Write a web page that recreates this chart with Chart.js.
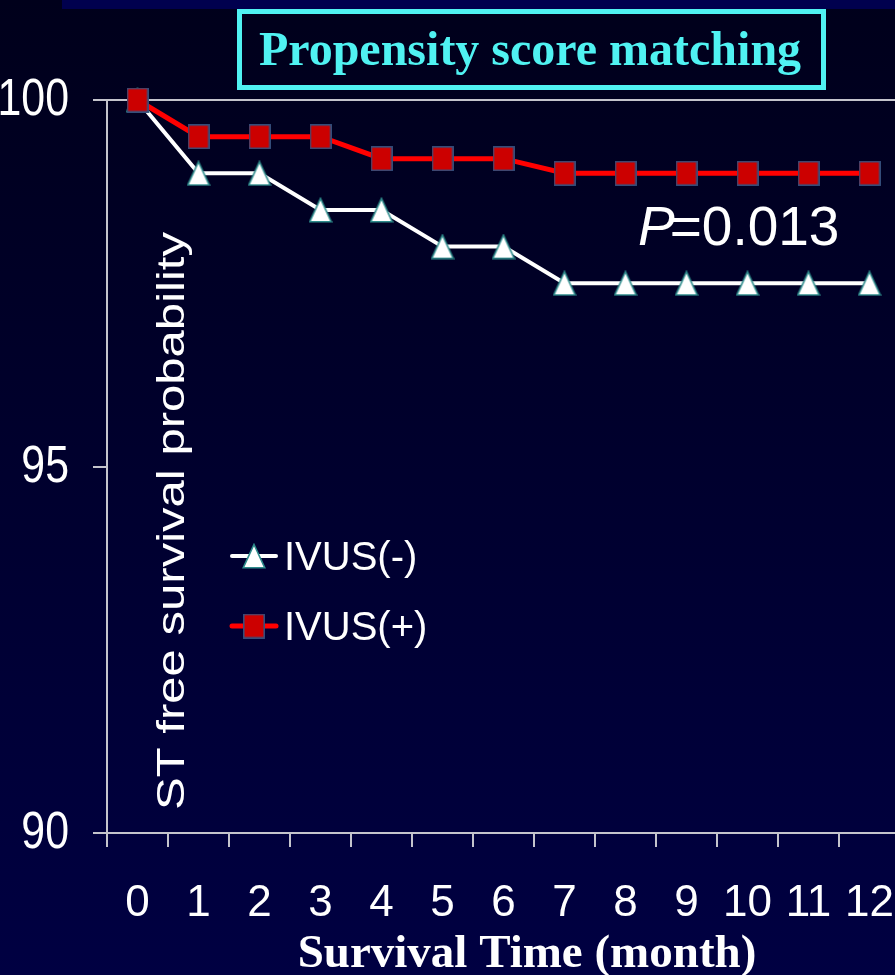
<!DOCTYPE html>
<html>
<head>
<meta charset="utf-8">
<script src="https://cdn.jsdelivr.net/npm/chart.js@4.4.1/dist/chart.umd.min.js"></script>
<style>
  html, body { margin: 0; padding: 0; overflow: hidden; width: 895px; height: 975px; background: #00001e; }
  #wrap { position: relative; width: 900px; height: 975px; background: linear-gradient(#00001b, #000042); }
  canvas { display: block; }
</style>
</head>
<body>
<div id="wrap"><canvas id="chart" width="900" height="975"></canvas></div>
<script>
// Months after the procedure
const months = ['0', '1', '2', '3', '4', '5', '6', '7', '8', '9', '10', '11', '12'];
// Stent-thrombosis-free survival (%)
const ivusNeg = [100, 99.0, 99.0, 98.5, 98.5, 98.0, 98.0, 97.5, 97.5, 97.5, 97.5, 97.5, 97.5];
const ivusPos = [100, 99.5, 99.5, 99.5, 99.2, 99.2, 99.2, 99.0, 99.0, 99.0, 99.0, 99.0, 99.0];
const seriesNames = ['IVUS(-)', 'IVUS(+)'];
const yMin = 90, yMax = 100, yStep = 5;

const chartTitle = 'Propensity score matching';
const xTitle = 'Survival Time (month)';
const yTitle = 'ST free survival probability';
const pValue = '0.013';

const AXIS = '#c4c4cc';
const SANS = '"Liberation Sans", Arial, sans-serif';
const SERIF = '"Liberation Serif", "Times New Roman", serif';

// Marker images: white triangle with teal edge, red block with dark edge
function makeTriangle() {
  const c = document.createElement('canvas');
  c.width = 24; c.height = 26;
  const g = c.getContext('2d');
  g.beginPath();
  g.moveTo(12, 1.5); g.lineTo(22.8, 24.8); g.lineTo(1.2, 24.8); g.closePath();
  g.fillStyle = '#ffffff'; g.fill();
  g.lineWidth = 1.6; g.strokeStyle = '#2e8c8c'; g.stroke();
  return c;
}
function makeSquare() {
  const c = document.createElement('canvas');
  c.width = 22; c.height = 25;
  const g = c.getContext('2d');
  g.fillStyle = '#cc0000';
  g.fillRect(0.8, 0.8, 20.4, 23.4);
  g.lineWidth = 1.5; g.strokeStyle = '#34507e';
  g.strokeRect(0.8, 0.8, 20.4, 23.4);
  return c;
}
const triImg = makeTriangle();
const sqImg = makeSquare();

// Background strip, title box, condensed y tick labels and free text
const decor = {
  id: 'decor',
  beforeDraw(chart) {
    const ctx = chart.ctx;
    ctx.save();
    ctx.fillStyle = '#00004e';
    ctx.fillRect(62, 0, chart.width - 62, 9);
    // title box
    ctx.strokeStyle = '#50f2f2';
    ctx.lineWidth = 5;
    ctx.strokeRect(239.5, 11.5, 584, 76);
    ctx.fillStyle = '#50f2f2';
    ctx.font = 'bold 48px ' + SERIF;
    ctx.textAlign = 'center';
    ctx.textBaseline = 'alphabetic';
    ctx.fillText(chartTitle, 530, 65);
    ctx.restore();
  },
  afterDraw(chart) {
    const ctx = chart.ctx;
    const yScale = chart.scales.y;
    ctx.save();
    ctx.fillStyle = '#ffffff';

    // y tick labels, slightly condensed
    ctx.font = '51px ' + SANS;
    ctx.textAlign = 'right';
    ctx.textBaseline = 'middle';
    yScale.ticks.forEach(t => {
      const py = yScale.getPixelForValue(t.value);
      ctx.save();
      ctx.translate(69, py);
      ctx.scale(0.84, 1);
      ctx.fillText(String(t.value), 0, 1);
      ctx.restore();
    });

    // y-axis title, written upward inside the plot
    ctx.save();
    ctx.font = '39px ' + SANS;
    const w = ctx.measureText(yTitle).width;
    ctx.translate(184, 810);
    ctx.rotate(-Math.PI / 2);
    ctx.scale(578 / w, 1);
    ctx.textAlign = 'left';
    ctx.textBaseline = 'alphabetic';
    ctx.fillText(yTitle, 0, 0);
    ctx.restore();

    // x-axis title
    ctx.font = 'bold 47px ' + SERIF;
    ctx.textAlign = 'center';
    ctx.textBaseline = 'alphabetic';
    ctx.fillText(xTitle, 527, 967);

    // P value
    ctx.textAlign = 'left';
    ctx.font = 'italic 55px ' + SANS;
    ctx.fillText('P', 638, 245);
    const pw = ctx.measureText('P').width;
    ctx.font = '55px ' + SANS;
    ctx.fillText('=' + pValue, 638 + pw - 5, 245);

    // legend
    const rows = [
      { ds: chart.data.datasets[1], y: 556 },
      { ds: chart.data.datasets[0], y: 626 }
    ];
    ctx.font = '40px ' + SANS;
    ctx.textBaseline = 'middle';
    rows.forEach(r => {
      ctx.strokeStyle = r.ds.borderColor;
      ctx.lineWidth = r.ds.borderWidth;
      ctx.lineCap = 'round';
      ctx.beginPath();
      ctx.moveTo(232, r.y); ctx.lineTo(276, r.y);
      ctx.stroke();
      const img = r.ds.pointStyle;
      ctx.drawImage(img, 254 - img.width / 2, r.y - img.height / 2);
      ctx.fillStyle = '#ffffff';
      ctx.fillText(r.ds.label, 284, r.y + 3);
    });
    ctx.restore();
  }
};

new Chart(document.getElementById('chart'), {
  type: 'line',
  data: {
    labels: months,
    datasets: [
      {
        label: seriesNames[1],
        data: ivusPos,
        borderColor: '#ff0000',
        borderWidth: 5,
        pointStyle: sqImg,
        pointRadius: 12,
        tension: 0,
        clip: false,
        order: 0
      },
      {
        label: seriesNames[0],
        data: ivusNeg,
        borderColor: '#ffffff',
        borderWidth: 4,
        pointStyle: triImg,
        pointRadius: 12,
        tension: 0,
        clip: false,
        order: 1
      }
    ]
  },
  options: {
    responsive: false,
    animation: false,
    events: [],
    layout: { autoPadding: false, padding: { top: 100, left: 0, right: 0, bottom: 0 } },
    plugins: { legend: { display: false }, tooltip: { enabled: false }, title: { display: false } },
    scales: {
      x: {
        offset: true,
        grid: { offset: true, drawOnChartArea: false, color: AXIS, tickColor: AXIS, lineWidth: 2, tickLength: 14 },
        border: { color: AXIS, width: 2 },
        ticks: { color: '#ffffff', font: { family: SANS, size: 44 }, padding: 30, maxRotation: 0, autoSkip: false },
        afterFit(s) { s.height = 142; s.paddingLeft = 0; s.paddingRight = 0; }
      },
      y: {
        min: yMin,
        max: yMax,
        ticks: { stepSize: yStep, display: false },
        grid: {
          color: c => (c.tick && c.tick.value === yMax) ? AXIS : 'rgba(0,0,0,0)',
          tickColor: AXIS,
          lineWidth: 2,
          tickLength: 14
        },
        border: { color: AXIS, width: 2 },
        afterFit(s) { s.width = 107; s.paddingTop = 0; s.paddingBottom = 0; }
      }
    }
  },
  plugins: [decor]
});
</script>
</body>
</html>
